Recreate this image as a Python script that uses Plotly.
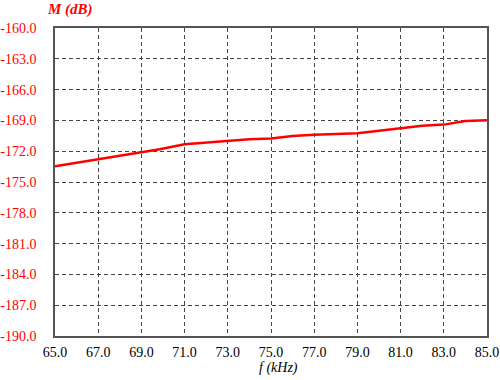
import plotly.graph_objects as go

freq_khz = [65, 67, 68, 69, 69.85, 71, 72, 73, 74, 75, 76, 77, 78, 79, 80, 81, 82, 83, 84, 85]
m_db = [-173.47, -172.78, -172.43, -172.04, -171.81, -171.33, -171.17, -170.97, -170.84, -170.77,
        -170.52, -170.39, -170.29, -170.25, -170.0, -169.74, -169.51, -169.41, -169.06, -168.99]
x_ticks = [65, 67, 69, 71, 73, 75, 77, 79, 81, 83, 85]
y_ticks = [-190, -187, -184, -181, -178, -175, -172, -169, -166, -163, -160]

font = "Liberation Serif"
grid_c = "#444444"

fig = go.Figure()
fig.add_trace(go.Scatter(x=freq_khz, y=m_db, mode="lines",
                         line=dict(color="#ff0000", width=2.5), showlegend=False))

fig.update_layout(
    width=500, height=380,
    margin=dict(l=55, r=13, t=28, b=44),
    paper_bgcolor="white", plot_bgcolor="white",
    font=dict(family=font, size=14, color="black"),
    xaxis=dict(range=[65, 85], tickvals=x_ticks, ticktext=[f"{v:.1f}" for v in x_ticks],
               showgrid=True, gridcolor=grid_c, griddash="4px,3px", gridwidth=1,
               showline=True, linecolor="#555555", linewidth=1.5, mirror=True,
               zeroline=False, ticks="", ticklabelstandoff=2, automargin=False,
               tickfont=dict(family=font, size=14, color="black")),
    yaxis=dict(range=[-190, -160], tickvals=y_ticks, ticktext=[f"{v:.1f}" for v in y_ticks],
               showgrid=True, gridcolor=grid_c, griddash="4px,3px", gridwidth=1,
               showline=True, linecolor="#555555", linewidth=1.5, mirror=True,
               zeroline=False, ticks="", ticklabelstandoff=14, automargin=False,
               tickfont=dict(family=font, size=14, color="#ff0000")),
    annotations=[
        dict(text="<b><i>M (dB)</i></b>", xref="paper", yref="paper", x=-0.024, y=1.0,
             xanchor="left", yanchor="bottom", yshift=8, showarrow=False,
             font=dict(family=font, size=15, color="#ff0000")),
        dict(text="<i>f (kHz)</i>", xref="paper", yref="paper", x=0.518, y=0,
             xanchor="center", yanchor="top", yshift=-22, showarrow=False,
             font=dict(family=font, size=14, color="black")),
    ],
)

fig.write_html("out.html")
